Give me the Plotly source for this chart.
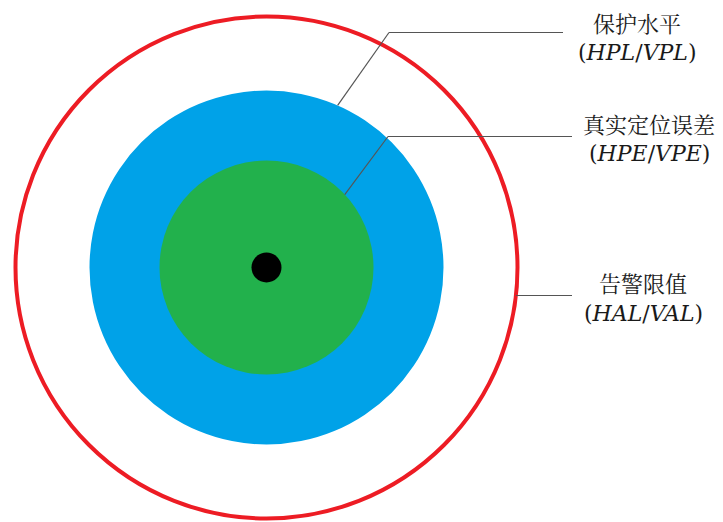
import math
import plotly.graph_objects as go

# ---- data ----
levels = ["告警限值", "保护水平", "真实定位误差"]
abbrevs = ["(<i>HAL</i>/<i>VAL</i>)", "(<i>HPL</i>/<i>VPL</i>)", "(<i>HPE</i>/<i>VPE</i>)"]
radii = [251, 177, 107]
dot_radius = 15
center_x = 266.5
center_y = 267.5

# ---- style ----
PAGE_OFF = 8            # default body margin of the html page
W, H = 723 - PAGE_OFF, 522 - PAGE_OFF
fill_colors = [None, "#00A2E8", "#22B14C"]
line_colors = ["#ED1C24", None, None]
# leader geometry: angle on circle (deg), elbow point, end x of horizontal line
leader_angle = [-6.4, 66.3, 43.0]
elbow = [None, (389, 32.5), (388, 136.5)]
line_end_x = [572, 563, 572]
label_pos = [(643, 282, 313), (637, 22, 52), (649, 123, 153)]

fig = go.Figure()
fig.add_trace(go.Scatter(x=[center_x], y=[center_y], mode="markers",
                         marker=dict(size=2 * dot_radius, color="black", line=dict(width=0)),
                         hoverinfo="skip", showlegend=False))

shapes = []
for i, r in enumerate(radii):
    s = dict(type="circle", xref="x", yref="y",
             x0=center_x - r, x1=center_x + r, y0=center_y - r, y1=center_y + r,
             layer="below")
    if fill_colors[i]:
        s["fillcolor"] = fill_colors[i]
        s["line"] = dict(width=0)
    else:
        s["fillcolor"] = "rgba(0,0,0,0)"
        s["line"] = dict(color=line_colors[i], width=4)
    shapes.append(s)

lead = dict(color="#555555", width=1.2)
annotations = []
for i, r in enumerate(radii):
    a = math.radians(leader_angle[i])
    sx = center_x + r * math.cos(a)
    sy = center_y - r * math.sin(a)
    if elbow[i] is None:
        shapes.append(dict(type="line", xref="x", yref="y", x0=sx, y0=sy,
                           x1=line_end_x[i], y1=sy, line=lead))
    else:
        bx, by = elbow[i]
        shapes.append(dict(type="line", xref="x", yref="y", x0=sx, y0=sy, x1=bx, y1=by, line=lead))
        shapes.append(dict(type="line", xref="x", yref="y", x0=bx, y0=by,
                           x1=line_end_x[i], y1=by, line=lead))
    lx, ly1, ly2 = label_pos[i]
    annotations.append(dict(x=lx, y=ly1, xref="x", yref="y", text=levels[i], showarrow=False,
                            font=dict(family="Noto Serif CJK SC, Noto Sans CJK SC", size=22, color="#1a1a1a"),
                            xanchor="center", yanchor="middle"))
    annotations.append(dict(x=lx, y=ly2, xref="x", yref="y", text=abbrevs[i], showarrow=False,
                            font=dict(family="DejaVu Serif", size=22, color="#1a1a1a"),
                            xanchor="center", yanchor="middle"))

fig.update_layout(
    width=W, height=H, autosize=False,
    margin=dict(l=0, r=0, t=0, b=0),
    paper_bgcolor="white", plot_bgcolor="white",
    xaxis=dict(range=[PAGE_OFF, PAGE_OFF + W], visible=False, fixedrange=True),
    yaxis=dict(range=[PAGE_OFF + H, PAGE_OFF], visible=False, fixedrange=True),
    shapes=shapes, annotations=annotations, showlegend=False,
)
fig.write_html("out.html")
